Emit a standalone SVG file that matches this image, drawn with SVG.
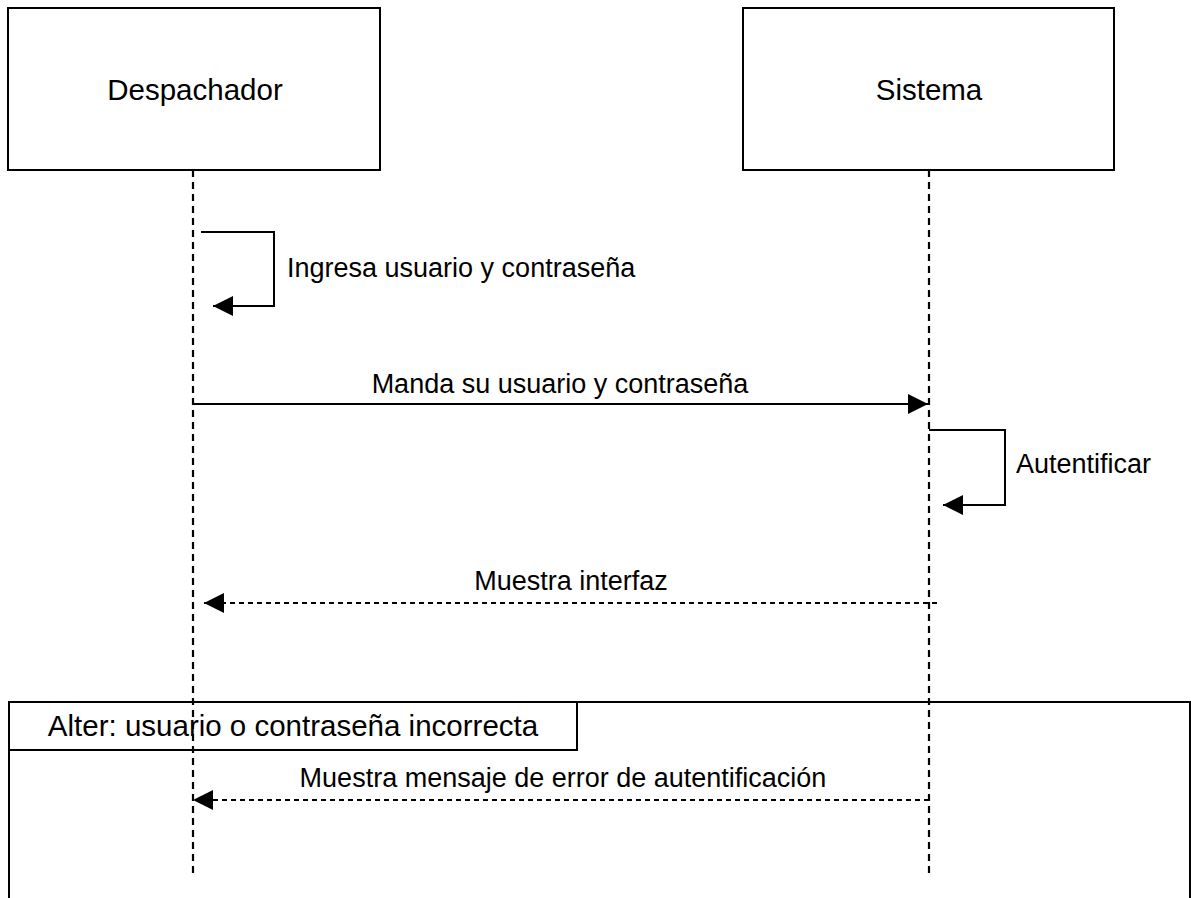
<svg xmlns="http://www.w3.org/2000/svg" width="1191" height="898" viewBox="0 0 1191 898">
<style>
.box{fill:#fff;stroke:#000;stroke-width:2}
.t{font-family:"Liberation Sans",Arial,sans-serif;font-size:27px;fill:#000}
.b{font-size:29.5px}
.life{stroke:#000;stroke-width:2.2;stroke-dasharray:7 5;fill:none}
.msg{stroke:#000;stroke-width:2;fill:none}
.ret{stroke:#000;stroke-width:2;stroke-dasharray:5 4;fill:none}
</style>
<defs>
<marker id="ah" viewBox="0 0 20 20" refX="20" refY="10" markerWidth="20" markerHeight="20" markerUnits="userSpaceOnUse" orient="auto">
<path d="M0,0 L20,10 L0,20 Z" fill="#000"/>
</marker>
</defs>
<rect width="1191" height="898" fill="#fff"/>
<g id="frame">
<rect x="9" y="702" width="1181" height="230" fill="none" stroke="#000" stroke-width="2"/>
<rect class="box" x="9" y="702" width="568" height="48"/>
<text class="t b" x="293" y="736" text-anchor="middle">Alter: usuario o contraseña incorrecta</text>
</g>
<g id="despachador">
<rect class="box" x="8" y="8" width="372" height="162"/>
<text class="t b" x="195" y="100" text-anchor="middle">Despachador</text>
</g>
<g id="sistema">
<rect class="box" x="743" y="8" width="371" height="162"/>
<text class="t b" x="929" y="100" text-anchor="middle">Sistema</text>
</g>
<g id="connectors">
<line class="life" x1="193" y1="170" x2="193" y2="877"/>
<line class="life" x1="929" y1="170" x2="929" y2="877"/>
<path class="msg" d="M201,232 H274 V306 H213" marker-end="url(#ah)"/>
<text class="t" x="287" y="277">Ingresa usuario y contraseña</text>
<path class="msg" d="M193,404 H928" marker-end="url(#ah)"/>
<text class="t" x="560" y="393" text-anchor="middle">Manda su usuario y contraseña</text>
<path class="msg" d="M929,430 H1005 V505 H943" marker-end="url(#ah)"/>
<text class="t" x="1016" y="473">Autentificar</text>
<path class="ret" d="M937,603 H204" marker-end="url(#ah)"/>
<text class="t" x="571" y="590" text-anchor="middle">Muestra interfaz</text>
<path class="ret" d="M929,800 H193" marker-end="url(#ah)"/>
<text class="t" x="563" y="787" text-anchor="middle">Muestra mensaje de error de autentificación</text>
</g>
</svg>
